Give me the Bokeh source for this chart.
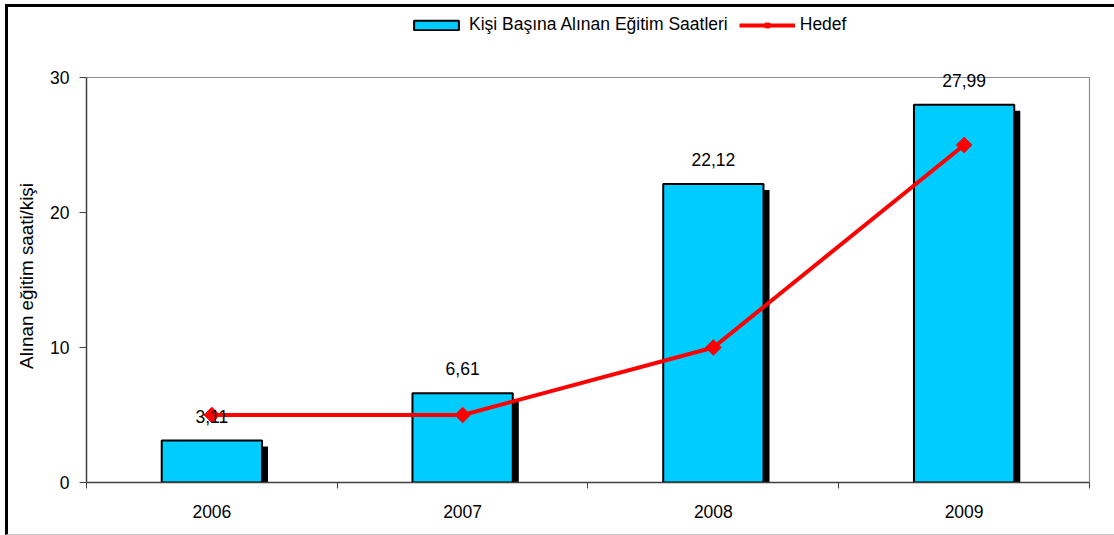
from bokeh.plotting import figure
from bokeh.layouts import column
from bokeh.models import (Range1d, FixedTicker, ColumnDataSource, LabelSet,
                          Legend, LegendItem)
from bokeh.core.properties import value
from bokeh.transform import dodge
from bokeh.embed import file_html
from bokeh.resources import INLINE

# Data
years = ["2006", "2007", "2008", "2009"]
hours_per_person = [3.11, 6.61, 22.12, 27.99]
target = [5, 5, 10, 25]
y_ticks = [0, 10, 20, 30]

bar_name = "Kişi Başına Alınan Eğitim Saatleri"
line_name = "Hedef"
y_title = "Alınan eğitim saati/kişi"

FONT = "Liberation Sans"
FS = "17.5px"
BAR_FILL = "#00CCFF"
RED = "#FF0000"
FRAME_GREY = "#8c8c8c"
AXIS_GREY = "#404040"

n = len(years)
y_top = y_ticks[-1]
PX_PER_UNIT = 13.5      # vertical scale of the plot box
HEADROOM_PX = 8         # room above the box for the tallest value label

LEGEND_H = 60
TOTAL_W, TOTAL_H = 1106, 527

# category centres on a numeric axis, so ticks can sit on the boundaries
xs = [i + 0.5 for i in range(n)]
src = ColumnDataSource(data=dict(
    x=xs,
    hours=hours_per_person,
    target=target,
    label=[f"{v:.2f}".replace(".", ",") for v in hours_per_person],
))

bar_style = dict(width=0.4, fill_color=BAR_FILL, line_color="#000000", line_width=2)
line_style = dict(line_color=RED, line_width=4)
marker_style = dict(marker="square", size=11, angle=0.785398,
                    fill_color=RED, line_color=RED)

# ---- main chart -------------------------------------------------------------
p = figure(width=TOTAL_W, height=TOTAL_H - LEGEND_H, output_backend="svg",
           toolbar_location=None,
           x_range=Range1d(0, n + 0.02),
           y_range=Range1d(0, y_top + HEADROOM_PX / PX_PER_UNIT),
           min_border_left=78, min_border_right=20, min_border_top=2,
           min_border_bottom=52)
p.xgrid.visible = False
p.ygrid.visible = False
p.outline_line_color = None

# plot box: top and right edges
p.segment(x0=[0, n], y0=[y_top, 0], x1=[n, n], y1=[y_top, y_top],
          line_color=FRAME_GREY, line_width=1.2)

# drop shadows behind the bars
p.vbar(x=dodge("x", 0.024), top=dodge("hours", -0.45), bottom=-1, width=0.4,
       source=src, fill_color="#000000", line_color=None)
p.vbar(x="x", top="hours", bottom=0, source=src, **bar_style)

labels = LabelSet(x="x", y="hours", text="label", source=src,
                  text_align="center", text_baseline="alphabetic", y_offset=18,
                  text_font=value(FONT), text_font_size=value(FS),
                  text_color="#000000")
p.add_layout(labels)

p.line(x="x", y="target", source=src, **line_style)
p.scatter(x="x", y="target", source=src, **marker_style)

xa = p.xaxis[0]
xa.bounds = (0, n)
xa.ticker = FixedTicker(ticks=xs, minor_ticks=list(range(n + 1)))
xa.major_label_overrides = {x: y for x, y in zip(xs, years)}
xa.major_tick_out = 0
xa.major_tick_in = 0
xa.minor_tick_out = 6
xa.minor_tick_in = 0
xa.minor_tick_line_color = AXIS_GREY
xa.axis_line_color = AXIS_GREY
xa.axis_line_width = 1.5
xa.major_label_standoff = 16

ya = p.yaxis[0]
ya.bounds = (y_ticks[0], y_top)
ya.ticker = FixedTicker(ticks=y_ticks)
ya.major_tick_out = 7
ya.major_tick_in = 0
ya.minor_tick_line_color = None
ya.major_tick_line_color = AXIS_GREY
ya.axis_line_color = AXIS_GREY
ya.axis_line_width = 1.5
ya.major_label_standoff = 10
ya.axis_label = y_title
ya.axis_label_standoff = 10
ya.axis_label_text_font_style = "normal"

for ax in (xa, ya):
    ax.major_label_text_font = FONT
    ax.major_label_text_font_size = FS
    ax.major_label_text_color = "#000000"
    ax.axis_label_text_font = FONT
    ax.axis_label_text_color = "#000000"
ya.axis_label_text_font_size = "18.8px"

# ---- legend strip above the chart -------------------------------------------
leg = figure(width=TOTAL_W, height=LEGEND_H, output_backend="svg",
             toolbar_location=None, x_axis_location=None, y_axis_location=None,
             x_range=Range1d(0, 1), y_range=Range1d(0, 1),
             min_border=0)
leg.xgrid.visible = False
leg.ygrid.visible = False
leg.outline_line_color = None

# undrawn (NaN) renderers carrying the series styles for the legend swatches
nan = float("nan")
sw_bar = leg.vbar(x=[nan], top=[nan], bottom=0, **bar_style)
sw_line = leg.line(x=[nan], y=[nan], **line_style)
sw_pts = leg.scatter(x=[nan], y=[nan], **marker_style)

legend = Legend(items=[LegendItem(label=bar_name, renderers=[sw_bar]),
                       LegendItem(label=line_name, renderers=[sw_line, sw_pts])],
                orientation="horizontal", location=(322, 32),
                glyph_width=56, glyph_height=12, label_standoff=5, spacing=11,
                padding=0, margin=0, border_line_color=None,
                background_fill_alpha=0,
                label_text_font=FONT, label_text_font_size=FS,
                label_text_color="#000000")
leg.add_layout(legend, "center")

layout = column(leg, p, spacing=0)
layout.styles = {"margin-left": "5px", "margin-top": "4px",
                 "border-left": "3px solid #000000",
                 "border-top": "3px solid #000000",
                 "border-bottom": "1px solid #cccccc"}

open("out.html", "w").write(file_html(layout, INLINE))
